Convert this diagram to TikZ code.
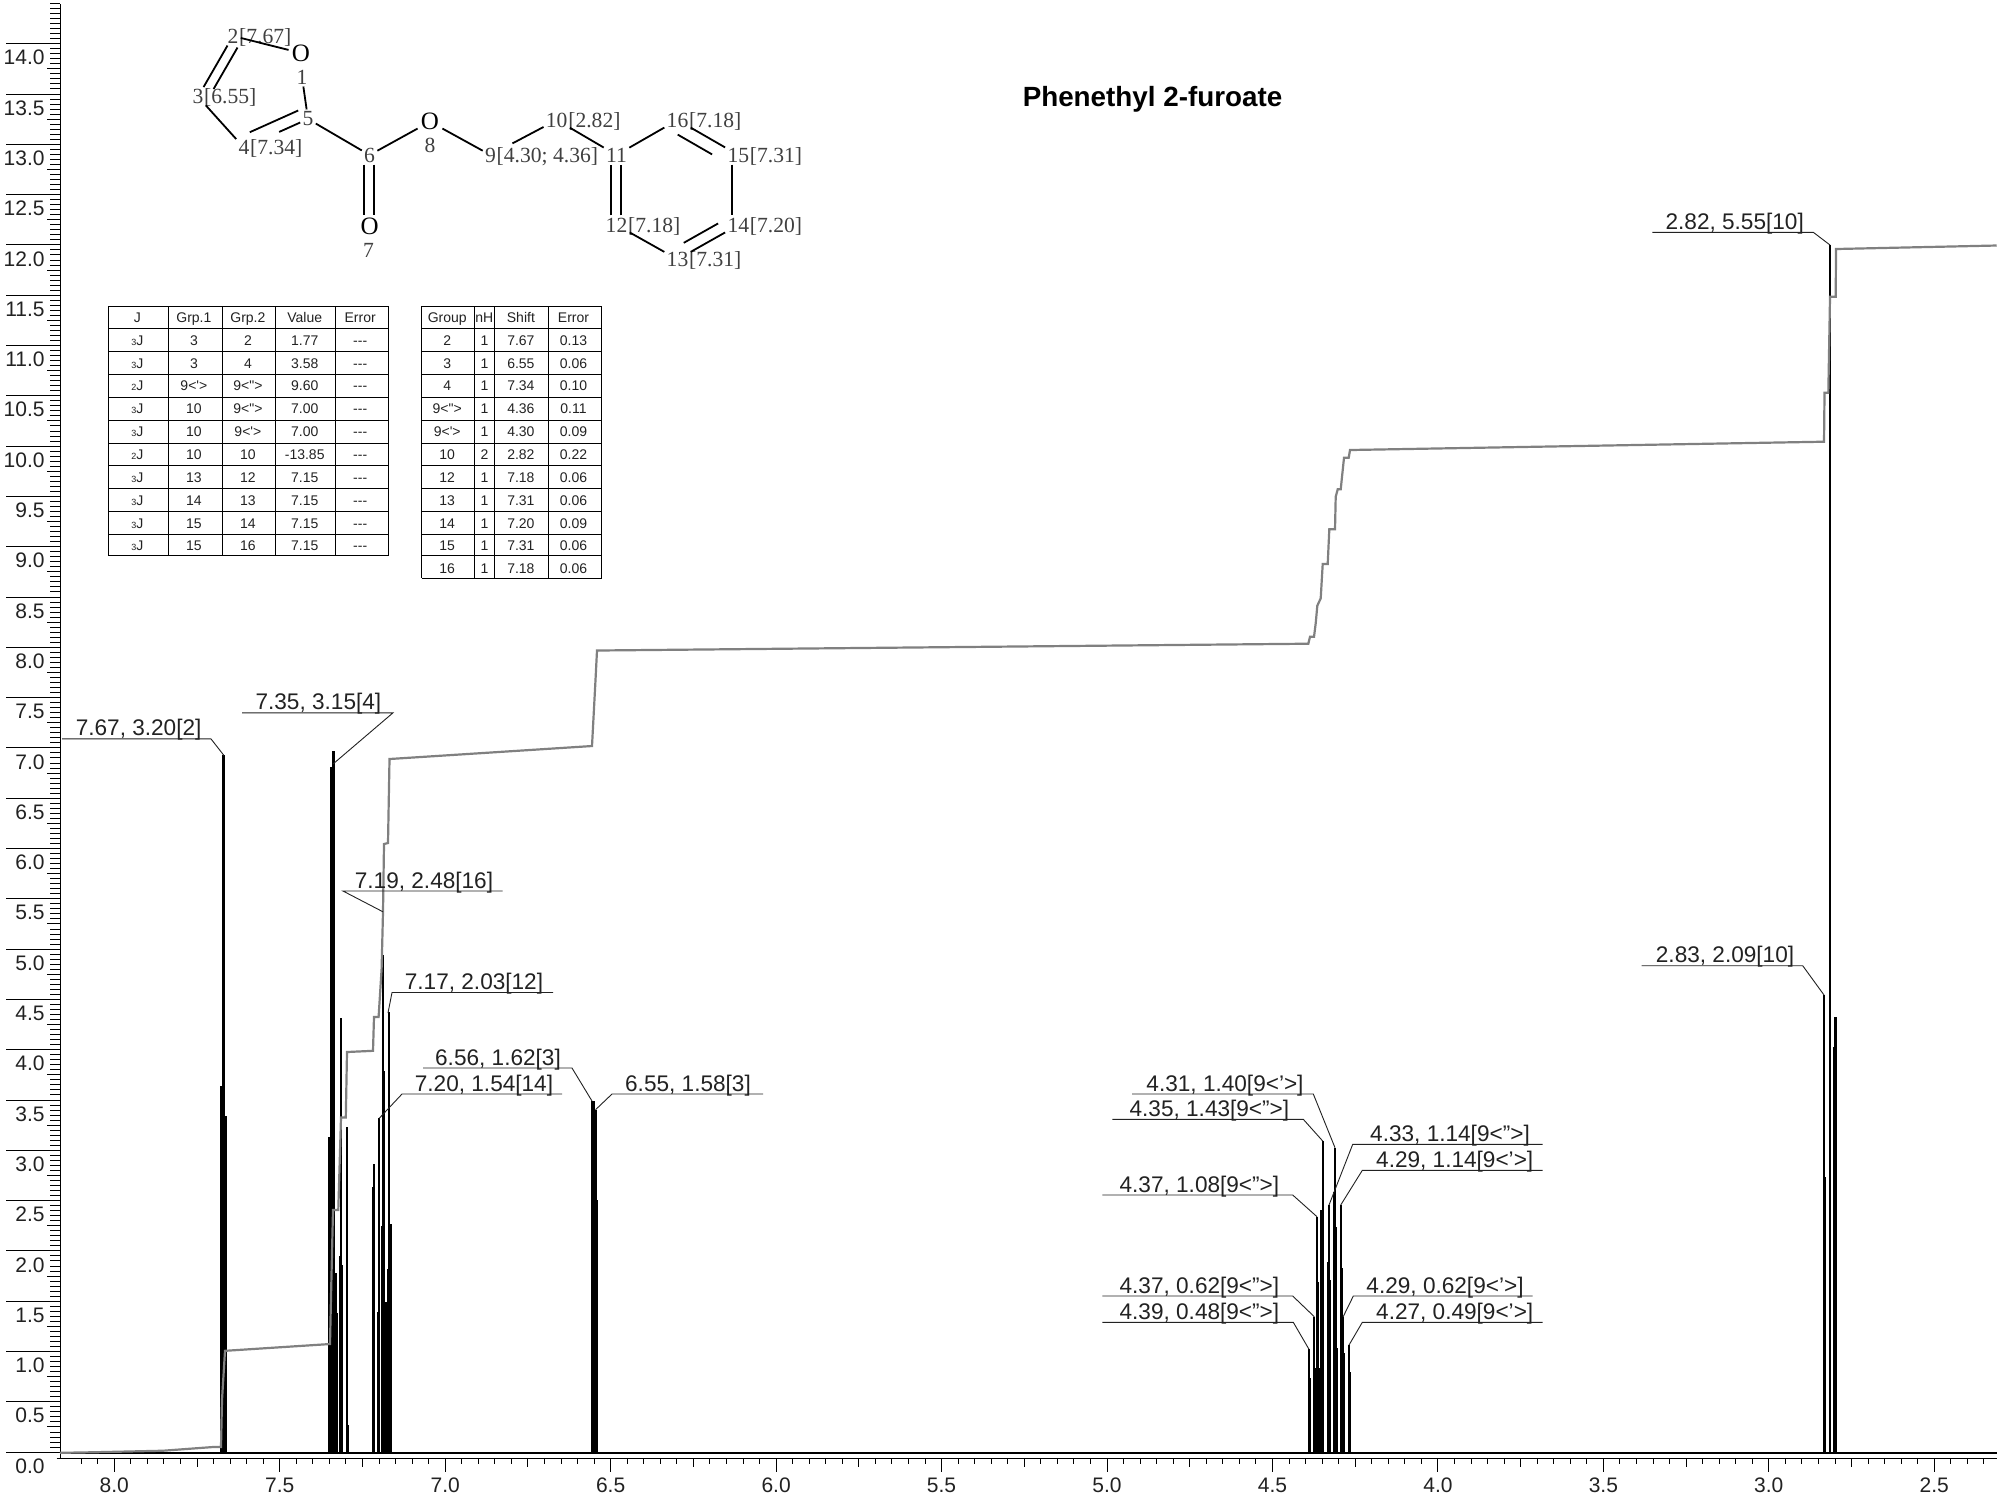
\documentclass[tikz,border=0pt]{standalone}
\usepackage{fontspec}
\newfontfamily\arialfont{Liberation Sans}
\newfontfamily\molfont{Liberation Serif}
\definecolor{intgray}{RGB}{128,128,128}
\definecolor{txtdark}{RGB}{34,34,34}
\definecolor{moltxt}{RGB}{64,64,64}
\tikzset{
  axisline/.style={black,line width=0.6pt},
  ticks/.style={black,line width=0.5pt},
  axnum/.style={font=\arialfont\fontsize{10.5}{12}\selectfont,text=txtdark,inner sep=0pt},
  peak/.style={black,line width=1.3pt},
  thinpeak/.style={black,line width=0.85pt},
  integ/.style={intgray,line width=1.1pt,line join=miter},
  leader/.style={txtdark,line width=0.45pt},
  ann/.style={font=\arialfont\fontsize{11.3}{13}\selectfont,text=txtdark,inner sep=0pt,anchor=base},
  atom/.style={font=\molfont\fontsize{10.8}{12}\selectfont,text=moltxt,inner sep=1pt},
  oxy/.style={font=\molfont\fontsize{12.5}{14}\selectfont,text=black,inner sep=1.5pt},
  shifts/.style={atom,inner sep=0pt,anchor=base west,xshift=-1pt},
  bond/.style={black,line width=0.9pt},
  tabline/.style={black,line width=0.5pt},
  cell/.style={font=\arialfont\fontsize{7}{8}\selectfont,text=txtdark,inner sep=0pt,text height=5pt,text depth=0pt}
}
\newcommand{\jj}[1]{{\fontsize{4.5}{5}\selectfont #1}J}
\newcommand{\dblbond}[6]{%
  \draw[bond,transform canvas={shift={(#3,#4)}}] (#1) -- (#2);
  \draw[bond,transform canvas={shift={(#5,#6)}}] (#1) -- (#2);}
\begin{document}
\begin{tikzpicture}[x=0.5pt,y=-0.5pt]
    \useasboundingbox[fill=white] (0,0) rectangle (2000,1496);
    %% axes
    \draw[axisline] (60.3,4) -- (60.3,1458.3);
    \draw[axisline] (56.7,1458.3) -- (1997,1458.3);
    \foreach \i in {1,...,288}
        \draw[ticks] (50,{1452.1-5.03*\i}) -- (60.3,{1452.1-5.03*\i});
    \foreach \i in {0,...,27}
        \draw[ticks] (47,{1452.1-50.3*\i-25.15}) -- (60.3,{1452.1-50.3*\i-25.15});
    \foreach \v [count=\i from 0] in {0.0,0.5,1.0,1.5,2.0,2.5,3.0,3.5,4.0,4.5,5.0,5.5,6.0,6.5,7.0,7.5,8.0,8.5,9.0,9.5,10.0,10.5,11.0,11.5,12.0,12.5,13.0,13.5,14.0} {
        \draw[ticks] (6,{1452.1-50.3*\i}) -- (60.3,{1452.1-50.3*\i});
        \node[axnum,anchor=east] (yn\i) at (45,{1466-50.3*\i}) {\v};
    }
    \foreach \i in {0,...,115}
        \draw[ticks] ({81.2+16.545*\i},1458.3) -- ({81.2+16.545*\i},1464.3);
    \foreach \i in {0,...,11} {
        \draw[ticks] ({114.3+165.45*\i+82.7},1458.3) -- ({114.3+165.45*\i+82.7},1466.7);
        \draw[ticks] ({114.3+165.45*\i},1458.3) -- ({114.3+165.45*\i},1471.7);
    }
    \foreach \v [count=\i from 0] in {8.0,7.5,7.0,6.5,6.0,5.5,5.0,4.5,4.0,3.5,3.0,2.5}
        \node[axnum] (xn\i) at ({114.3+165.45*\i},1485) {\v};
    %% peaks
    \foreach \px/\py in {221.5/1086,223.5/755,225.5/1116,
        329/1137,331/767,333.5/751,335.2/1273,336.3/1313,
        592/1101,594/1101,596/1110,596.6/1200,
        1824/995,1825/1177,1830/245,1835.7/1017,1834.7/1047}
        \draw[peak] (\px,1453) -- (\px,\py);
    \foreach \px/\py in {339.8/1256,341/1018,342.3/1265,346.7/1127,348/1425,
        372.7/1187,373.7/1164,377.7/1312,379/1118,381.7/1226,383/955,384.3/1071,386/1302,387.7/1269,389/1012,390.7/1224,
        1309/1349,1310/1378,1314.3/1317,1316/1368,1317/1217,1318.3/1282,1320/1368,1321.3/1210,1322.7/1141,
        1327.7/1262,1329/1205,1330/1280,1333.7/1192,1335/1148,1336/1227,1337.3/1348,1340.7/1205,1341.7/1268,1343/1317,1344.3/1353,1349/1345,1350.3/1372}
        \draw[thinpeak] (\px,1453) -- (\px,\py);
    \draw[black,line width=1pt] (60,1453) -- (1997,1453);
    %% integral
    \draw[integ] (60,1452.8) -- (95,1452.2) -- (163,1450.7) -- (213,1447) -- (221,1447) -- (222,1400) -- (225,1350.8) -- (330,1344)
        -- (331,1297) -- (333,1210) -- (338.3,1210) -- (341,1117.5) -- (345.8,1117.5) -- (347,1052) -- (373,1050.8)
        -- (374,1017) -- (378.6,1017) -- (381.6,969) -- (383,912) -- (384,844) -- (388,843) -- (389.5,759)
        -- (592,746) -- (595.5,680) -- (597,650.5) -- (1308.3,643.7) -- (1310,636.7) -- (1314,636.7) -- (1315.7,623.3)
        -- (1317.3,605.7) -- (1320.7,598.3) -- (1322.7,564) -- (1327.7,564) -- (1329.3,529.3) -- (1335,529.3)
        -- (1335.7,496.7) -- (1337.7,489.3) -- (1340.7,489.3) -- (1344,457.7) -- (1348.7,457.7) -- (1350,450)
        -- (1824,441.7) -- (1824.5,392.7) -- (1828.3,392.7) -- (1830,296.7) -- (1835.7,296.7) -- (1836,249) -- (1996.7,245.5);
    %% peak labels
    \foreach \xs/\yl/\xk/\xp/\yp/\xt/\lab [count=\n] in {
        62/738.9/211/224/755.5/138.6/{7.67, 3.20[2]},
        242/712.8/393/333/764/318.4/{7.35, 3.15[4]},
        502.5/891/343/383/911.8/424/{7.19, 2.48[16]},
        553/992.5/392/388/1013/474/{7.17, 2.03[12]},
        423/1068/572/592/1101/498/{6.56, 1.62[3]},
        562/1094/402/379/1118.5/484/{7.20, 1.54[14]},
        763/1094/612/595.5/1109.7/688/{6.55, 1.58[3]},
        1132/1094/1313.3/1335/1147.7/1225/{4.31, 1.40[9<’>]},
        1112.3/1119.3/1303.3/1322.7/1141/1209.4/{4.35, 1.43[9<”>]},
        1102.3/1195/1292.7/1317/1216.7/1199.4/{4.37, 1.08[9<”>]},
        1102.3/1296/1292.7/1314.3/1316.7/1199.4/{4.37, 0.62[9<”>]},
        1102.3/1322.3/1293.3/1309/1349.3/1199.4/{4.39, 0.48[9<”>]},
        1542.7/1144.3/1352.7/1329/1205/1450/{4.33, 1.14[9<”>]},
        1542.7/1170.3/1362.3/1340.7/1205/1454.7/{4.29, 1.14[9<’>]},
        1532.7/1296/1353.3/1343/1317/1445/{4.29, 0.62[9<’>]},
        1542.7/1322.3/1362.3/1349/1345/1454.7/{4.27, 0.49[9<’>]},
        1652.3/232.3/1813.3/1830/245/1734.7/{2.82, 5.55[10]},
        1641.6/965.7/1802.7/1824/995/1725/{2.83, 2.09[10]}} {
        \coordinate (st\n) at (\xs,\yl);
        \coordinate (kn\n) at (\xk,\yl);
        \coordinate (pk\n) at (\xp,\yp);
        \node[ann] (lab\n) at (\xt,{\yl-3}) {\lab};
        \draw[leader] (st\n) -- (kn\n) -- (pk\n);
    }
    %% title
    \node[font=\arialfont\bfseries\fontsize{13.9}{16}\selectfont,text=black,inner sep=0pt] (title) at (1152.5,99.5) {Phenethyl 2-furoate};
    %% furan ring
    \node[oxy] (a1) at (301,53) {O};
    \node[atom] (n1) at (302,77) {1};
    \node[atom] (a2) at (233,36) {2};
    \node[shifts] (s2) at (a2.base east) {[7.67]};
    \node[atom] (a3) at (198,96.7) {3};
    \node[shifts] (s3) at (a3.base east) {[6.55]};
    \node[atom] (a4) at (244,147.7) {4};
    \node[shifts] (s4) at (a4.base east) {[7.34]};
    \node[atom] (a5) at (308,119) {5};
    %% ester
    \node[atom] (a6) at (369.6,155) {6};
    \node[oxy] (a7) at (369.6,226.7) {O};
    \node[atom] (n7) at (368.6,250.7) {7};
    \node[oxy] (a8) at (430,121.7) {O};
    \node[atom] (n8) at (430,145.7) {8};
    \node[atom] (a9) at (490.5,155) {9};
    \node[shifts] (s9) at (a9.base east) {[4.30; 4.36]};
    \node[atom] (a10) at (556.7,120) {10};
    \node[shifts] (s10) at (a10.base east) {[2.82]};
    %% phenyl ring
    \node[atom] (a11) at (616.5,155) {11};
    \node[atom] (a12) at (616.5,225) {12};
    \node[shifts] (s12) at (a12.base east) {[7.18]};
    \node[atom] (a13) at (677.5,259.3) {13};
    \node[shifts] (s13) at (a13.base east) {[7.31]};
    \node[atom] (a14) at (738.3,225) {14};
    \node[shifts] (s14) at (a14.base east) {[7.20]};
    \node[atom] (a15) at (738.3,155) {15};
    \node[shifts] (s15) at (a15.base east) {[7.31]};
    \node[atom] (a16) at (677.5,120) {16};
    \node[shifts] (s16) at (a16.base east) {[7.18]};
    %% bonds
    \dblbond{a2}{a3}{0}{0}{10}{2}
    \draw[bond] (a2) -- (a1);
    \draw[bond] (n1) -- (a5);
    \draw[bond] (a3) -- (a4);
    \draw[bond,shorten <=15pt] (a4) -- (a5);
    \draw[bond,transform canvas={shift={(-2,-12)}}] (a4) -- (a5);
    \draw[bond] (a5) -- (a6);
    \draw[bond] (a6) -- (a8);
    \dblbond{a6}{a7}{-5.9}{0}{4.4}{0}
    \draw[bond] (a8) -- (a9);
    \draw[bond,shorten <=8pt] (a9) -- (a10);
    \draw[bond] (a10) -- (a11);
    \draw[bond] (a11) -- (a16);
    \dblbond{a16}{a15}{0}{0}{-13}{7}
    \draw[bond,transform canvas={shift={(-6.6,0)}}] (a15) -- (a14);
    \dblbond{a14}{a13}{0}{0}{-7}{-9}
    \draw[bond] (a13) -- (a12);
    \dblbond{a12}{a11}{-5.7}{0}{4.1}{0}
    %% coupling table
    \foreach \y in {306,328.85,351.7,374.55,397.4,420.25,443.1,465.95,488.8,511.65,534.5,555.3}
        \draw[tabline] (108.2,\y) -- (388.6,\y);
    \foreach \x in {108.2,168.2,222.3,275.3,335.3,388.6}
        \draw[tabline] (\x,306) -- (\x,555.3);
    \foreach \ca/\cb/\cc/\cd/\ce [count=\r from 0, evaluate=\r as \ry using 317.4+22.85*\r] in {
        J/Grp.1/Grp.2/Value/Error,
        \jj{3}/3/2/1.77/---,
        \jj{3}/3/4/3.58/---,
        \jj{2}/9<'>/9<">/9.60/---,
        \jj{3}/10/9<">/7.00/---,
        \jj{3}/10/9<'>/7.00/---,
        \jj{2}/10/10/-13.85/---,
        \jj{3}/13/12/7.15/---,
        \jj{3}/14/13/7.15/---,
        \jj{3}/15/14/7.15/---,
        \jj{3}/15/16/7.15/---} {
        \node[cell] (ja\r) at (137.4,\ry) {\ca};
        \node[cell] (jb\r) at (193.9,\ry) {\cb};
        \node[cell] (jc\r) at (247.9,\ry) {\cc};
        \node[cell] (jd\r) at (304.7,\ry) {\cd};
        \node[cell] (je\r) at (360.2,\ry) {\ce};
    }
    %% shift table
    \foreach \y in {306,328.85,351.7,374.55,397.4,420.25,443.1,465.95,488.8,511.65,534.5,555.3,578.3}
        \draw[tabline] (421.6,\y) -- (601.6,\y);
    \foreach \x in {421.6,474.6,494.6,548.6,601.6}
        \draw[tabline] (\x,306) -- (\x,578.3);
    \foreach \ca/\cb/\cc/\cd [count=\r from 0, evaluate=\r as \ry using 317.4+22.85*\r] in {
        Group/nH/Shift/Error,
        2/1/7.67/0.13,
        3/1/6.55/0.06,
        4/1/7.34/0.10,
        9<">/1/4.36/0.11,
        9<'>/1/4.30/0.09,
        10/2/2.82/0.22,
        12/1/7.18/0.06,
        13/1/7.31/0.06,
        14/1/7.20/0.09,
        15/1/7.31/0.06,
        16/1/7.18/0.06} {
        \node[cell] (ga\r) at (447.2,\ry) {\ca};
        \node[cell] (gb\r) at (484.4,\ry) {\cb};
        \node[cell] (gc\r) at (520.9,\ry) {\cc};
        \node[cell] (gd\r) at (573.5,\ry) {\cd};
    }
\end{tikzpicture}
\end{document}
